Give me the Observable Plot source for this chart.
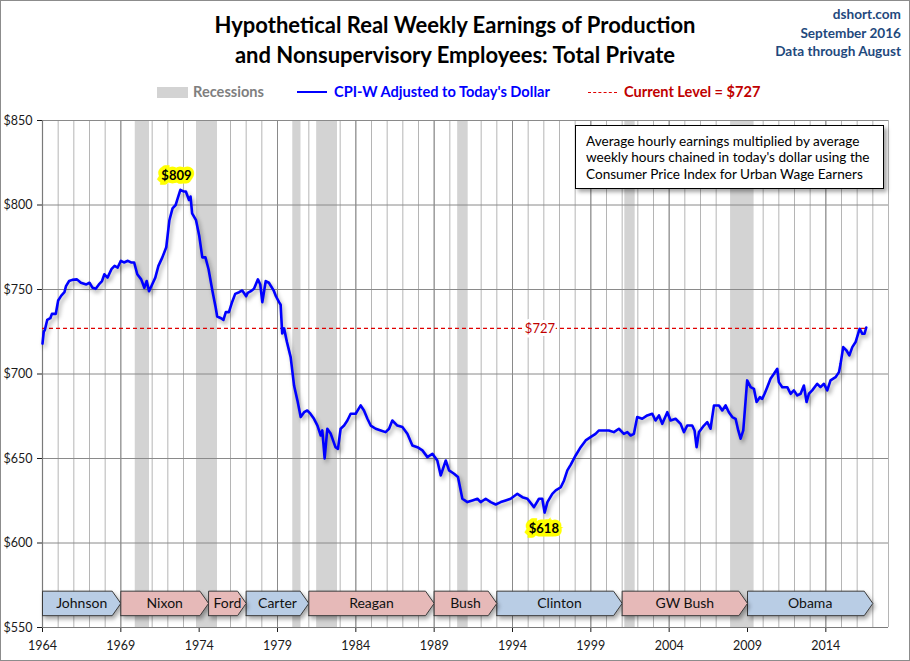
<!DOCTYPE html>
<html><head><meta charset="utf-8">
<script src="https://cdn.jsdelivr.net/npm/d3@7"></script>
<script src="https://cdn.jsdelivr.net/npm/@observablehq/plot@0.6"></script>
<style>
body{margin:0;background:#fff;font-family:Lato,"Open Sans",sans-serif;}
#wrap{position:relative;width:910px;height:661px;overflow:hidden;background:#fff}
#frame{position:absolute;left:0;top:0;width:910px;height:661px;box-sizing:border-box;border:1px solid #8c8c8c;pointer-events:none;z-index:5}
.title{position:absolute;left:0;width:910px;top:10px;text-align:center;font-weight:bold;font-size:22px;line-height:30px;color:#000}
.src{position:absolute;right:9px;top:5px;text-align:right;font-weight:bold;font-size:13.6px;line-height:18.5px;color:#1f497d}
.lg{position:absolute;top:82px;font-weight:bold;font-size:14.6px;line-height:19px;white-space:nowrap}
.sw{position:absolute}
#chart{position:absolute;left:0;top:105px}
#note{position:absolute;left:575px;top:125px;width:309px;height:64px;box-sizing:border-box;border:1px solid #000;background:#fff;box-shadow:3px 3px 4px rgba(0,0,0,0.35);padding:7px 0 0 10px;font-size:13.6px;line-height:16.3px;color:#000;z-index:3;white-space:nowrap}
svg g[aria-label="line"]{filter:drop-shadow(2px 3px 2px rgba(0,0,0,0.35))}
</style>
</head><body>
<div id="wrap">
  <div class="title">Hypothetical Real Weekly Earnings of Production<br>and Nonsupervisory Employees: Total Private</div>
  <div class="src">dshort.com<br>September 2016<br>Data through August</div>
  <div class="sw" style="left:157px;top:87px;width:31px;height:11px;background:#d3d3d3"></div>
  <div class="lg" style="left:193px;color:#7f7f7f">Recessions</div>
  <div class="sw" style="left:297px;top:91px;width:30px;height:0;border-top:2.5px solid #0000ff"></div>
  <div class="lg" style="left:334px;color:#0000ff">CPI-W Adjusted to Today's Dollar</div>
  <div class="sw" style="left:588px;top:92px;width:29px;height:0;border-top:1.3px dashed #e00000"></div>
  <div class="lg" style="left:624px;color:#c00000">Current Level = $727</div>
  <div id="chart"></div>
  <div id="note">Average hourly earnings multiplied by average<br>weekly hours chained in today's dollar using the<br>Consumer Price Index for Urban Wage Earners</div>
  <div id="frame"></div>
</div>
<script>
// ---- data ----
const dates = [1964.00,1964.08,1964.15,1964.30,1964.50,1964.60,1964.85,1965.00,1965.20,1965.40,1965.50,1965.70,1965.90,1966.20,1966.45,1966.80,1967.00,1967.20,1967.40,1967.60,1967.80,1967.95,1968.15,1968.40,1968.60,1968.80,1969.00,1969.20,1969.45,1969.65,1969.85,1970.05,1970.30,1970.50,1970.65,1970.80,1971.00,1971.20,1971.40,1971.65,1971.90,1972.10,1972.30,1972.50,1972.60,1972.80,1973.00,1973.15,1973.35,1973.45,1973.55,1973.80,1974.00,1974.20,1974.40,1974.60,1974.85,1975.05,1975.15,1975.40,1975.55,1975.70,1975.90,1976.10,1976.30,1976.55,1976.75,1977.00,1977.10,1977.30,1977.50,1977.75,1977.90,1978.03,1978.25,1978.45,1978.75,1978.90,1979.10,1979.20,1979.30,1979.42,1979.60,1979.84,1980.06,1980.27,1980.48,1980.70,1980.90,1981.10,1981.33,1981.55,1981.76,1981.86,1982.01,1982.18,1982.40,1982.70,1982.86,1983.03,1983.25,1983.46,1983.67,1983.99,1984.31,1984.52,1984.74,1984.95,1985.27,1985.59,1985.90,1986.12,1986.33,1986.65,1986.97,1987.29,1987.61,1987.93,1988.25,1988.57,1988.89,1989.20,1989.42,1989.74,1989.95,1990.27,1990.52,1990.80,1991.12,1991.44,1991.76,1991.97,1992.29,1992.61,1992.93,1993.25,1993.56,1993.88,1994.31,1994.63,1994.95,1995.37,1995.69,1995.90,1996.05,1996.23,1996.54,1996.76,1997.08,1997.29,1997.50,1997.72,1998.03,1998.35,1998.67,1998.98,1999.30,1999.52,1999.84,2000.15,2000.47,2000.79,2001.11,2001.33,2001.54,2001.75,2001.96,2002.28,2002.60,2002.92,2003.13,2003.35,2003.56,2003.88,2004.09,2004.41,2004.73,2004.94,2005.15,2005.47,2005.62,2005.75,2005.90,2006.22,2006.43,2006.64,2006.86,2007.18,2007.39,2007.60,2007.81,2008.03,2008.24,2008.41,2008.56,2008.73,2008.88,2008.98,2009.20,2009.41,2009.58,2009.79,2009.94,2010.09,2010.26,2010.47,2010.69,2010.90,2011.00,2011.22,2011.54,2011.75,2011.96,2012.18,2012.39,2012.60,2012.77,2012.92,2013.13,2013.45,2013.66,2013.88,2014.09,2014.30,2014.62,2014.84,2014.94,2015.11,2015.32,2015.50,2015.69,2015.90,2016.16,2016.33,2016.47,2016.58];
const earnings = [718,725,726,732,733,735.6,735.6,743.5,746.4,748.4,752,755,755.7,756,754,753,754,751,750.4,753,755,759,757,762,764,763,767,766,767,766,766,759,756,751,755,749,753,757,764,769,775,791,798,800,803,809,808,808,803,805,795,791,782,769,769,762,749,739.5,734,733,732,736.6,736.6,742.5,747.4,748.4,749.4,746,748,749,750.4,756,753,742.5,755,754,749.5,746,742.5,741,724,727,719,710,693,684.4,674.5,677.4,678.4,676.5,673.5,669.5,663.6,666.6,650,667.6,664.6,656.7,655.7,667.6,669.5,672.5,676.5,676.5,681.4,678.4,673.5,669.5,667.6,666.6,665.6,667.6,672.5,669.5,668.6,664.6,657.7,656.7,654.8,650.8,652.8,648.8,640,648.8,643,641,639,626.2,624.2,625.2,626.2,624.2,626.2,624.2,622.8,624.2,625.2,626.2,629.1,627.1,626.2,621.2,626.2,626.2,618,624.2,629.1,631.1,633,637,643,646.4,651.8,656.7,660.7,662.6,664.6,666.6,666.6,666.6,665.6,667.6,664.6,665.6,663.6,664.6,674.5,673.5,675.5,676.5,672.5,675.5,670.5,677.4,672.5,673.5,670.5,665.6,669.5,669.5,666.6,656.7,665.6,669.5,671.5,667.6,681.4,681.4,678.4,681.4,677.4,674.5,673.5,666.6,661.7,666.6,684.4,696.2,692.2,691.2,683.4,686.3,685.3,688.3,692.2,697.2,700.1,703.1,695.2,692.2,692.2,688.3,690.3,687.3,688.3,693.2,683.4,688.3,690.3,694.2,692.2,694.2,690.3,696.2,698.1,701.1,706,715.9,713.9,711,715.9,718.9,726.8,723.8,723.8,727.5];

const recStart = [1969.92, 1973.83, 1980.00, 1981.50, 1990.50, 2001.17, 2007.92];
const recEnd   = [1970.83, 1975.17, 1980.50, 1982.83, 1991.17, 2001.83, 2009.42];

const presNames = ["Johnson","Nixon","Ford","Carter","Reagan","Bush","Clinton","GW Bush","Obama"];
const presStart = [1964, 1969, 1974.6, 1977, 1981, 1989, 1993, 2001, 2009];
const presEnd   = [1969, 1974.6, 1977, 1981, 1989, 1993, 2001, 2009, 2017];
const presParty = ["D","R","R","D","R","R","D","R","D"];

const currentLevel = 727;
const lastDate = 2016.58;
const peak = {date: 1972.55, value: 817, label: "$809"};
const trough = {date: 1996.0, value: 608.5, label: "$618"};
const currentLabel = {date: 1995.75, value: 727, label: "$727"};

const yearTicks = [1964,1969,1974,1979,1984,1989,1994,1999,2004,2009,2014];
const allYears = d3.range(1964, 2019);
const yTicks = [550,600,650,700,750,800,850];
const arrowBand = {bottom: 557, top: 571.5};
const arrowTip = 0.55;

// ---- derived tables ----
const series = dates.map((d, i) => ({date: d, value: earnings[i]}));
const recessions = recStart.map((s, i) => ({start: s, end: recEnd[i]}));
const pres = presNames.map((n, i) => ({name: n, start: presStart[i], end: presEnd[i], party: presParty[i]}));
const mid = (arrowBand.bottom + arrowBand.top) / 2;
function arrowPts(list) {
  const pts = [];
  for (const p of list) {
    const corners = [[p.start, arrowBand.bottom],[p.end - arrowTip, arrowBand.bottom],[p.end, mid],[p.end - arrowTip, arrowBand.top],[p.start, arrowBand.top],[p.start, arrowBand.bottom]];
    for (const [x, y] of corners) pts.push({name: p.name, x, y});
  }
  return pts;
}
const demPts = arrowPts(pres.filter(p => p.party === "D"));
const repPts = arrowPts(pres.filter(p => p.party === "R"));

const chart = Plot.plot({
  width: 910, height: 556,
  marginLeft: 42, marginRight: 22, marginTop: 15, marginBottom: 34,
  style: {fontFamily: "Lato, 'Open Sans', sans-serif", fontSize: "12.5px", color: "#1a1a1a", background: "transparent"},
  x: {domain: [1964, 2018], ticks: yearTicks, tickFormat: d => String(d), tickSize: 5, tickPadding: 9, label: null},
  y: {domain: [550, 850], ticks: yTicks, tickFormat: d => "$" + d, tickSize: 5, tickPadding: 5, label: null},
  marks: [
    Plot.ruleX(allYears, {stroke: "#b5b5b5", strokeWidth: 1}),
    Plot.ruleX(yearTicks, {stroke: "#8a8a8a", strokeWidth: 1}),
    Plot.rect(recessions, {x1: "start", x2: "end", fill: "#d3d3d3"}),
    Plot.ruleY(yTicks, {stroke: "#8a8a8a", strokeWidth: 1}),
    Plot.ruleX([1964], {stroke: "#7a7a7a", strokeWidth: 1.2}),
    Plot.ruleY([550], {stroke: "#7a7a7a", strokeWidth: 1.2}),
    Plot.ruleY([{y: currentLevel, x1: 1964, x2: lastDate}], {y: "y", x1: "x1", x2: "x2", stroke: "#e00000", strokeWidth: 1.3, strokeDasharray: "4,3"}),
    Plot.line(demPts, {x: "x", y: "y", z: "name", fill: "#b9cde5", stroke: "#3a3a3a", strokeWidth: 1}),
    Plot.line(repPts, {x: "x", y: "y", z: "name", fill: "#e6b9b8", stroke: "#3a3a3a", strokeWidth: 1}),
    Plot.text(pres, {x: d => (d.start + d.end) / 2, y: () => mid, text: "name", fontSize: 14, fill: "#111"}),
    Plot.line(series, {x: "date", y: "value", stroke: "#0000ff", strokeWidth: 2.6, strokeLinejoin: "round"}),
    Plot.text([currentLabel], {x: "date", y: "value", text: "label", fill: "#c00000", stroke: "#fff", strokeWidth: 6, fontSize: 13}),
    Plot.text([peak, trough], {x: "date", y: "value", text: "label", fill: "#000", stroke: "#ffff00", strokeWidth: 7, strokeLinejoin: "miter", fontSize: 13, fontWeight: "bold"})
  ]
});
document.getElementById("chart").appendChild(chart);
</script>
</body></html>
